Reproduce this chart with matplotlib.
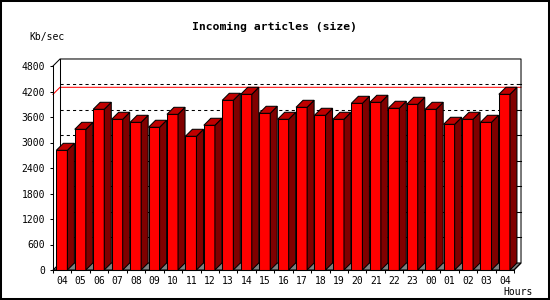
import matplotlib
matplotlib.use('Agg')
import matplotlib.pyplot as plt
from matplotlib.patches import Polygon, Rectangle

## ---------------------------------------------------------------------
## data
hours = ['04', '05', '06', '07', '08', '09', '10', '11', '12', '13', '14', '15', '16',
         '17', '18', '19', '20', '21', '22', '23', '00', '01', '02', '03', '04']
kbsec = [2816, 3310, 3781, 3546, 3475, 3358, 3663, 3146, 3405, 3993, 4134, 3687, 3546,
         3828, 3640, 3546, 3922, 3946, 3805, 3899, 3781, 3428, 3546, 3475, 4134]
yticks = [0, 600, 1200, 1800, 2400, 3000, 3600, 4200, 4800]

title = 'Incoming articles (size)'
ylabel = 'Kb/sec'
xlabel = 'Hours'

## ---------------------------------------------------------------------
## pseudo 3d settings (data units)
n = len(hours)
ymax = 4800
dx = 0.38      # depth in x
dy = 165       # depth in y
bx = 0.18      # bar offset inside its slot
bw = 0.60      # bar width
lw = 0.75

FONT = 'DejaVu Sans Mono'

fig = plt.figure(figsize=(5.5, 3), dpi=100)
ax = fig.add_axes([53 / 550, 30 / 300, 461 / 550, 204 / 300])
ax.set_xlim(0, n)
ax.set_ylim(0, ymax)
ax.patch.set_alpha(0)
for s in ['top', 'right']:
    ax.spines[s].set_visible(False)
for s in ['left', 'bottom']:
    ax.spines[s].set_linewidth(lw)
    ax.spines[s].set_zorder(6)

## floor
ax.add_patch(Polygon([(0, 0), (n, 0), (n + dx, dy), (dx, dy)], closed=True,
                     facecolor='#808080', edgecolor='black', lw=lw, zorder=1, clip_on=False))

## back grid lines + right ticks
for v in yticks[1:-1]:
    ax.plot([dx, n + dx], [v + dy, v + dy], color='black', lw=lw,
            linestyle=(0, (3, 3)), zorder=1, clip_on=False)
    ax.plot([n + dx - 0.22, n + dx], [v + dy, v + dy], color='black', lw=lw, zorder=1, clip_on=False)

## max line
vmax = max(kbsec)
ax.plot([0, dx, n + dx], [vmax, vmax + dy, vmax + dy], color='red', lw=lw, zorder=2, clip_on=False)

## frame lines
ax.plot([0, dx, n + dx, n + dx, n], [ymax, ymax + dy, ymax + dy, dy, 0],
        color='black', lw=lw, zorder=2, clip_on=False)
ax.plot([dx, dx], [dy, ymax + dy], color='black', lw=lw, zorder=2, clip_on=False)

## bars
for i, v in enumerate(kbsec):
    x0 = i + bx
    x1 = x0 + bw
    ax.add_patch(Rectangle((x0, 0), bw, v, facecolor='#ff0000', edgecolor='black',
                           lw=lw, zorder=3, clip_on=False))
    ax.add_patch(Polygon([(x1, 0), (x1 + dx, dy), (x1 + dx, v + dy), (x1, v)], closed=True,
                         facecolor='#800000', edgecolor='black', lw=lw, zorder=3, clip_on=False))
    ax.add_patch(Polygon([(x0, v), (x0 + dx, v + dy), (x1 + dx, v + dy), (x1, v)], closed=True,
                         facecolor='#c00000', edgecolor='black', lw=lw, zorder=3, clip_on=False))

## ticks
ax.set_yticks(yticks)
ax.set_yticklabels([str(t) for t in yticks], fontsize=7, family=FONT)
ax.tick_params(axis='y', direction='out', length=2.2, width=lw, pad=3.6)
ax.set_xticks([i + 0.5 for i in range(n)])
ax.set_xticklabels(hours, fontsize=7, family=FONT)
ax.set_xticks(range(n + 1), minor=True)
ax.tick_params(axis='x', which='major', length=0, pad=4.5)
ax.tick_params(axis='x', which='minor', direction='out', length=2.2, width=lw)

## texts
fig.text(274 / 550, 1 - 27 / 300, title, ha='center', va='center',
         fontsize=8.2, fontweight='bold', family=FONT)
fig.text(47.5 / 550, 1 - 37 / 300, ylabel, ha='center', va='center', fontsize=7, family=FONT)
fig.text(518.5 / 550, 1 - 292 / 300, xlabel, ha='center', va='center', fontsize=7, family=FONT)

## border
fig.patches.append(Rectangle((0, 0), 1, 1, transform=fig.transFigure, fill=False,
                             edgecolor='black', lw=2.9))

fig.savefig('out.png', dpi=100)
